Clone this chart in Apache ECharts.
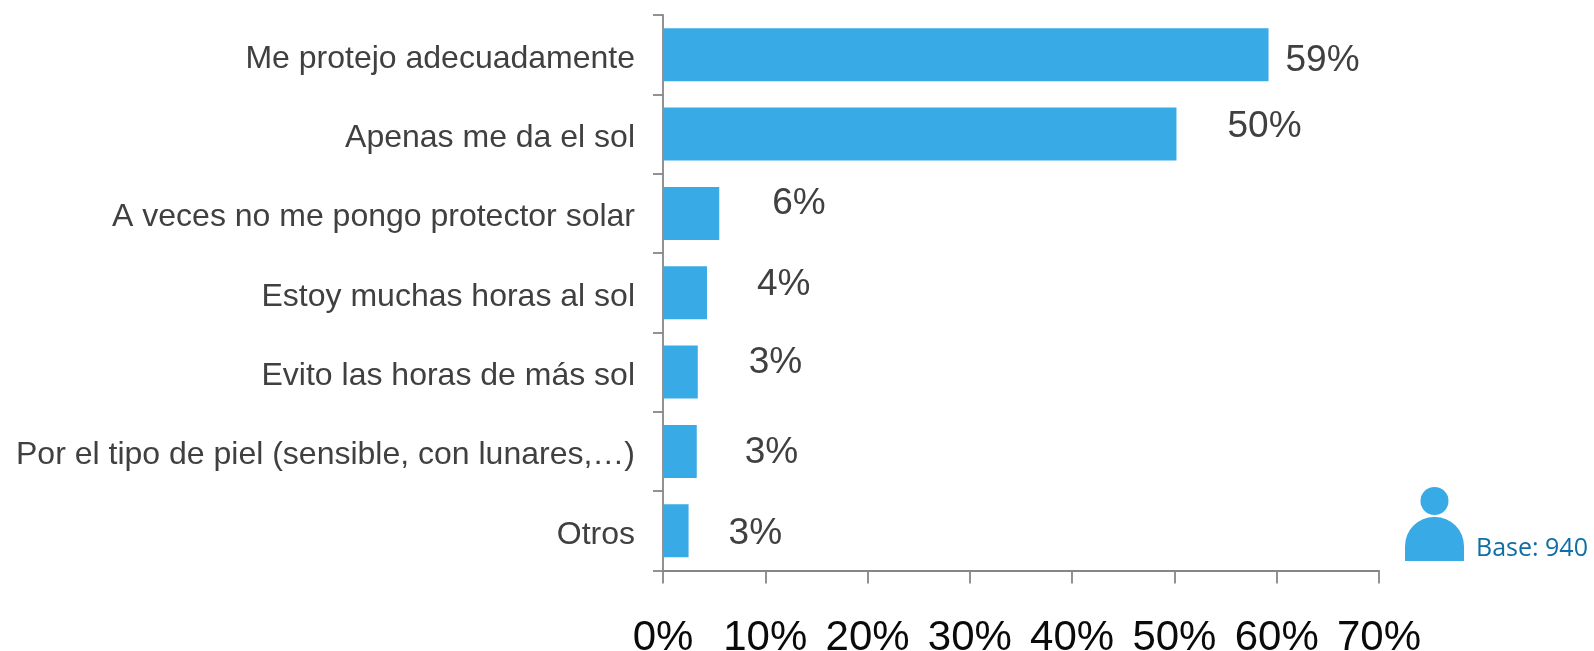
<!DOCTYPE html>
<html><head><meta charset="utf-8">
<style>html,body{margin:0;padding:0;background:#fff}#c{width:1594px;height:651px}</style>
<script src="https://cdn.jsdelivr.net/npm/echarts@6/dist/echarts.min.js"></script>
</head><body><div id="c"></div>
<script>
const categories = ["Me protejo adecuadamente","Apenas me da el sol","A veces no me pongo protector solar","Estoy muchas horas al sol","Evito las horas de más sol","Por el tipo de piel (sensible, con lunares,…)","Otros"];
const values = [59.2,50.2,5.5,4.3,3.4,3.3,2.5];
const valueLabels = ["59%","50%","6%","4%","3%","3%","3%"];
const labelOffsets = [[12,6],[46,-7],[48,-10],[45,-8],[46,-9],[43,1],[35,3]];
const xTicks = {min:0,max:70,interval:10};
const chart = echarts.init(document.getElementById('c'),null,{renderer:'canvas'});
const blue='#38aae6', axisC='#868686', font='"Liberation Sans", Arial, sans-serif';
chart.setOption({
  animation:false,
  grid:{left:663,top:15,width:716,height:555.5,containLabel:false,outerBoundsMode:'none'},
  xAxis:{type:'value',min:xTicks.min,max:xTicks.max,interval:xTicks.interval,splitLine:{show:false},
    axisLine:{show:true,lineStyle:{color:axisC,width:1.8}},
    axisTick:{show:true,length:13,lineStyle:{color:axisC,width:1.8}},
    axisLabel:{formatter:'{value}%',fontFamily:font,fontSize:42,color:'#0a0a0a',margin:47,hideOverlap:false,showMinLabel:true,showMaxLabel:true}},
  yAxis:{type:'category',inverse:true,data:categories,
    axisLine:{show:true,lineStyle:{color:axisC,width:1.8}},
    axisTick:{show:true,length:10,lineStyle:{color:axisC,width:1.8}},
    axisLabel:{fontFamily:font,fontSize:32,color:'#404040',margin:28,interval:0,verticalAlign:'top',lineHeight:8}},
  series:[{type:'bar',barWidth:53,itemStyle:{color:blue},
    data:values.map((v,i)=>({value:v,label:{offset:labelOffsets[i]}})),
    label:{show:true,position:'right',fontFamily:font,fontSize:37,color:'#404040',
      formatter:p=>valueLabels[p.dataIndex]}}],
  graphic:[
    {type:'circle',shape:{cx:1434.5,cy:501,r:14},style:{fill:blue}},
    {type:'rect',shape:{x:1405,y:517,width:59,height:44,r:[29,29,0,0]},style:{fill:blue}},
    {type:'text',x:1476,y:549,style:{text:'Base: 940',fontFamily:'"Open Sans", sans-serif',fontSize:25,fill:'#0f6fa5',verticalAlign:'middle'}}
  ]
});
</script></body></html>
